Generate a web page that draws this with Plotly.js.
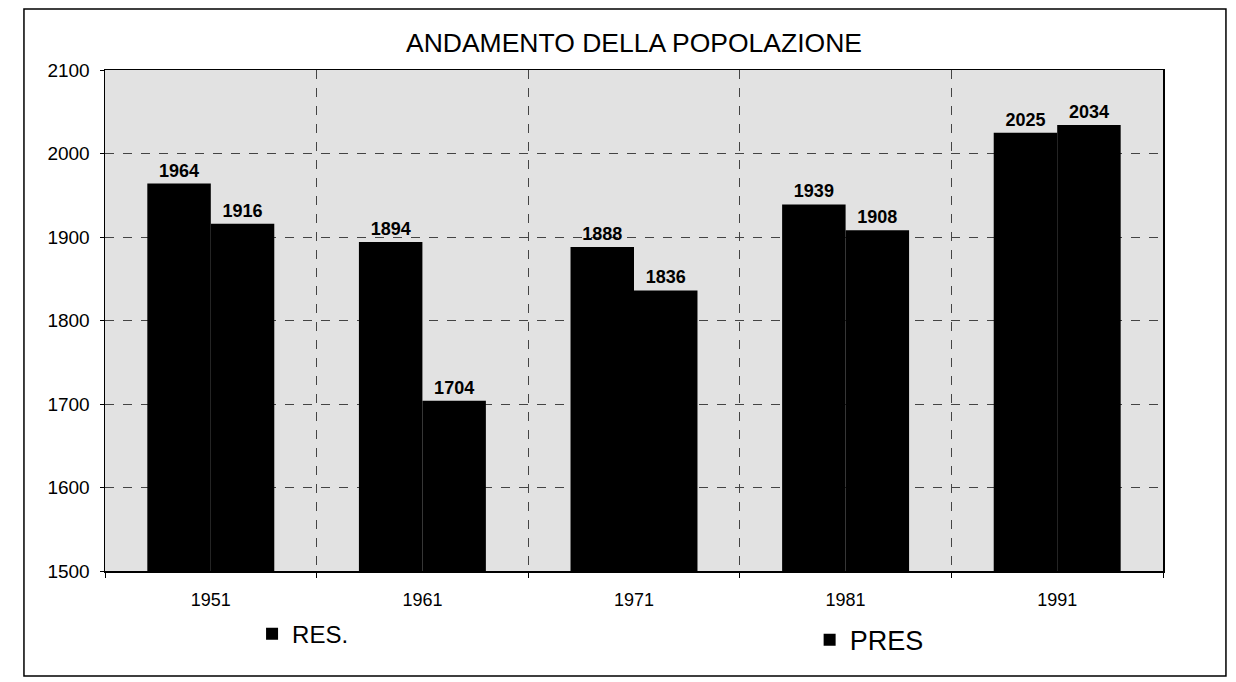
<!DOCTYPE html>
<html>
<head>
<meta charset="utf-8">
<script src="https://cdn.plot.ly/plotly-3.0.1.min.js"></script>
<style>html,body{margin:0;padding:0;background:#fff;}#chart{width:1236px;height:682px;}</style>
</head>
<body>
<div id="chart"></div>
<script>
const years = ["1951", "1961", "1971", "1981", "1991"];
const resValues = [1964, 1894, 1888, 1939, 2025];
const presValues = [1916, 1704, 1836, 1908, 2034];
const seriesNames = ["RES.", "PRES"];

const font = "Liberation Sans, Arial, sans-serif";
const labelFont = {family: font, size: 18, color: "#000", weight: "bold"};

const traces = [
  {type: "bar", name: seriesNames[0], x: years, y: resValues, text: resValues.map(String),
   textposition: "outside", textfont: labelFont, cliponaxis: false,
   marker: {color: "#000"}, legend: "legend", showlegend: true},
  {type: "bar", name: seriesNames[1], x: years, y: presValues, text: presValues.map(String),
   textposition: "outside", textfont: labelFont, cliponaxis: false,
   marker: {color: "#000"}, legend: "legend2", showlegend: true}
];

const legendBase = {orientation: "h", xanchor: "left", yanchor: "middle",
  bgcolor: "rgba(0,0,0,0)", itemwidth: 30};

const layout = {
  width: 1236, height: 682,
  showlegend: true,
  margin: {l: 105, r: 73, t: 70, b: 111, autoexpand: false},
  paper_bgcolor: "#fff",
  plot_bgcolor: "#e2e2e2",
  barmode: "group",
  bargap: 0.4,
  bargroupgap: 0,
  title: {text: "ANDAMENTO DELLA POPOLAZIONE", font: {family: font, size: 26.5, color: "#000"},
    x: 0.5, xref: "paper", xanchor: "center", y: 0.937, yanchor: "middle"},
  xaxis: {
    type: "category", tickson: "boundaries", showgrid: true, griddash: "dash", gridcolor: "#444", gridwidth: 1,
    showline: true, linecolor: "#000", linewidth: 1.5, mirror: true,
    ticks: "outside", ticklen: 5, tickcolor: "#000", ticklabelstandoff: 12,
    tickfont: {family: font, size: 18, color: "#000"}
  },
  yaxis: {
    range: [1500, 2100], dtick: 100, showgrid: true, griddash: "dash", gridcolor: "#444", gridwidth: 1,
    showline: true, linecolor: "#000", linewidth: 1.5, mirror: true,
    ticks: "outside", ticklen: 4, tickcolor: "#000", ticklabelstandoff: 6,
    tickfont: {family: font, size: 19, color: "#000"}, zeroline: false
  },
  legend: Object.assign({}, legendBase, {x: 0.139, y: -0.126, font: {family: font, size: 24, color: "#000"}}),
  legend2: Object.assign({}, legendBase, {x: 0.666, y: -0.138, font: {family: font, size: 27, color: "#000"}}),
  shapes: [{type: "rect", xref: "paper", yref: "paper", x0: -0.0766, x1: 1.0595, y0: -0.2096, y1: 1.1218,
    line: {color: "#000", width: 1.5}, fillcolor: "rgba(0,0,0,0)", layer: "below"}]
};

Plotly.newPlot("chart", traces, layout, {displayModeBar: false, staticPlot: true});
</script>
</body>
</html>
